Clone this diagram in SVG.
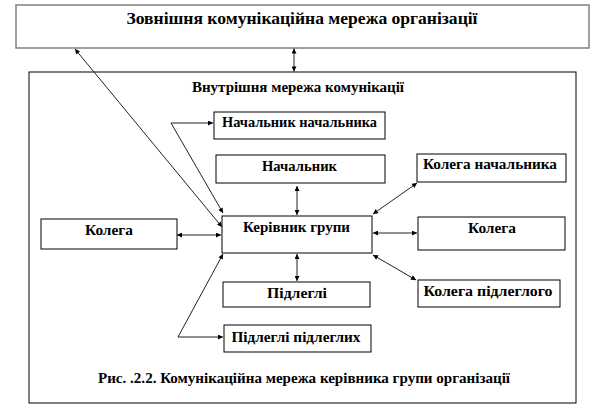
<svg xmlns="http://www.w3.org/2000/svg" width="604" height="409" viewBox="0 0 604 409">
<style>
text{font-family:"Liberation Serif",serif;font-weight:700;fill:#000;text-anchor:middle}
.node{fill:#fff;stroke:#000;stroke-width:1}
.t{font-size:14px}
.conn{fill:none;stroke:#222;stroke-width:1;marker-start:url(#ah);marker-end:url(#ah)}
</style>
<defs>
<marker id="ah" viewBox="0 0 6 6" refX="6" refY="3" markerWidth="6" markerHeight="5" markerUnits="userSpaceOnUse" orient="auto-start-reverse">
<path d="M0,0 L6,3 L0,6 z" fill="#000"/>
</marker>
</defs>
<rect width="604" height="409" fill="#fff"/>
<g id="external">
<rect x="16" y="5" width="573" height="43" fill="#fff" stroke="#808080" stroke-width="1.5"/>
<text x="302" y="24" font-size="17" textLength="351" lengthAdjust="spacingAndGlyphs">Зовнішня комунікаційна  мережа організації</text>
</g>
<g id="internal">
<rect x="29" y="72" width="547" height="331" fill="#fff" stroke="#000" stroke-width="1"/>
<text x="298" y="92" font-size="14" textLength="212" lengthAdjust="spacingAndGlyphs">Внутрішня  мережа комунікації</text>
<text x="304" y="383" font-size="15" textLength="412" lengthAdjust="spacingAndGlyphs">Рис. .2.2. Комунікаційна  мережа керівника групи організації</text>
</g>
<g id="boss-of-boss">
<rect class="node" x="214" y="112" width="171" height="27"/>
<text class="t" x="299.5" y="127" textLength="155" lengthAdjust="spacingAndGlyphs">Начальник начальника</text>
</g>
<g id="boss">
<rect class="node" x="216" y="155" width="169" height="28"/>
<text class="t" x="299.5" y="171" textLength="75" lengthAdjust="spacingAndGlyphs">Начальник</text>
</g>
<g id="boss-colleague">
<rect class="node" x="417" y="154" width="149" height="28"/>
<text class="t" x="490" y="169" textLength="134" lengthAdjust="spacingAndGlyphs">Колега начальника</text>
</g>
<g id="group-leader">
<rect class="node" x="222" y="216" width="150" height="37"/>
<text x="296.5" y="232" font-size="15" textLength="107" lengthAdjust="spacingAndGlyphs">Керівник групи</text>
</g>
<g id="colleague-left">
<rect class="node" x="41" y="219" width="136" height="30"/>
<text class="t" x="109" y="235" textLength="48" lengthAdjust="spacingAndGlyphs">Колега</text>
</g>
<g id="colleague-right">
<rect class="node" x="418" y="217" width="147" height="33"/>
<text class="t" x="492" y="233" textLength="48" lengthAdjust="spacingAndGlyphs">Колега</text>
</g>
<g id="subordinates">
<rect class="node" x="223" y="282" width="147" height="25"/>
<text class="t" x="297" y="298" textLength="60" lengthAdjust="spacingAndGlyphs">Підлеглі</text>
</g>
<g id="subordinate-colleague">
<rect class="node" x="418" y="280" width="142" height="27"/>
<text class="t" x="488" y="296" textLength="129" lengthAdjust="spacingAndGlyphs">Колега підлеглого</text>
</g>
<g id="subordinates-of-subordinates">
<rect class="node" x="224" y="325" width="147" height="27"/>
<text class="t" x="296" y="342" textLength="129" lengthAdjust="spacingAndGlyphs">Підлеглі  підлеглих</text>
</g>
<g id="connectors">
<line class="conn" x1="294" y1="48.5" x2="294" y2="71.5"/>
<line class="conn" x1="222" y1="227" x2="75" y2="49"/>
<polyline class="conn" points="223,213 171,123 213,123"/>
<line class="conn" x1="297" y1="186" x2="297" y2="215"/>
<line class="conn" x1="177" y1="235" x2="221" y2="235"/>
<line class="conn" x1="373" y1="214" x2="417" y2="183"/>
<line class="conn" x1="373" y1="233" x2="417" y2="233"/>
<line class="conn" x1="373" y1="255" x2="416" y2="280"/>
<line class="conn" x1="297" y1="254" x2="297" y2="281"/>
<polyline class="conn" points="223,254 178,337 223,337"/>
</g>
</svg>
